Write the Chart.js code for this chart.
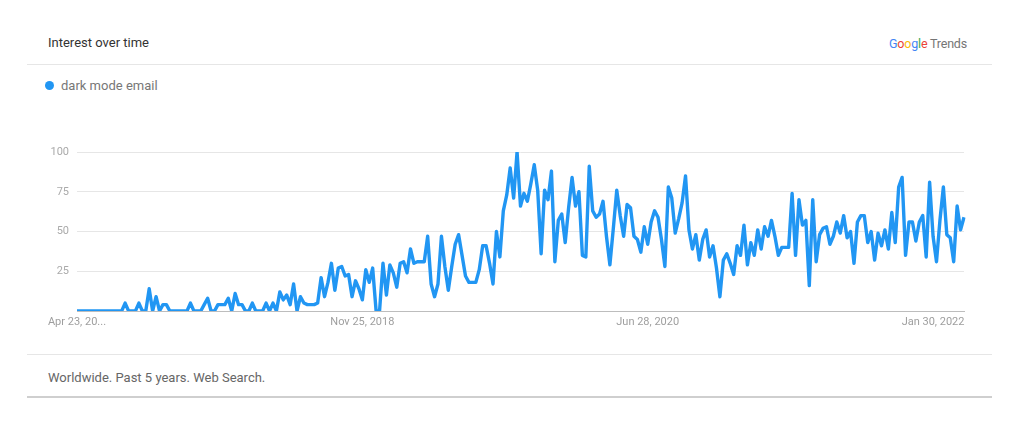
<!DOCTYPE html>
<html lang="en">
<head>
    <meta charset="UTF-8">
    <title>Interest over time</title>
    <style>
        body { margin: 0; width: 1024px; height: 441px; background: #fff; font-family: Roboto, Arial, sans-serif; position: relative; overflow: hidden; }
        .abs { position: absolute; }
        #title { left: 48px; top: 35px; font-size: 13px; color: #333; }
        #brand { left: 889px; top: 36px; font-size: 12.5px; letter-spacing: -0.2px; }
        .line { left: 27px; width: 965px; height: 1px; background: #e6e6e6; }
        #legend { left: 45px; top: 78px; font-size: 13px; color: #777; }
        #legend .dot { display: inline-block; width: 9px; height: 9px; border-radius: 50%; background: #2196f3; margin-right: 7px; vertical-align: 0px; }
        #footer { left: 48px; top: 370px; font-size: 13px; color: #666; }
        #chartBox { left: 30px; top: 130px; }
    </style>
</head>
<body>
    <div id="title" class="abs">Interest over time</div>
    <div id="brand" class="abs"><span style="color:#4285f4">G</span><span style="color:#ea4335">o</span><span style="color:#fbbc05">o</span><span style="color:#4285f4">g</span><span style="color:#34a853">l</span><span style="color:#ea4335">e</span> <span style="color:#757575">Trends</span></div>
    <div class="abs line" style="top:64px"></div>
    <div id="legend" class="abs"><span class="dot"></span>dark mode email</div>
    <div id="chartBox" class="abs"><canvas id="trendChart" width="950" height="210"></canvas></div>
    <div class="abs line" style="top:354px"></div>
    <div id="footer" class="abs">Worldwide. Past 5 years. Web Search.</div>
    <div class="abs line" style="top:396px; height:2px; background:#cfcfcf"></div>

    <script src="https://cdn.jsdelivr.net/npm/chart.js"></script>
    <script>
        // weekly interest, Apr 23 2017 onwards
        const interest = [
            0, 0, 0, 0, 0, 0, 0, 0, 0, 0, 0, 0, 0, 0,
            5, 0, 0, 0, 5, 0, 0,
            14, 0, 9, 0, 4, 4, 0,
            0, 0, 0, 0, 0, 5, 0,
            0, 0, 4, 8, 0, 0, 4,
            4, 4, 8, 0, 11, 4, 4,
            0, 0, 5, 0, 0, 0, 5,
            0, 5, 0, 12, 7, 10, 4,
            17, 0, 9, 5, 4, 4, 4, 5,
            21, 9, 18, 30, 13, 27, 28, 22, 23, 9,
            19, 14, 7, 26, 18, 27, 0, 0, 30, 10,
            29, 24, 15, 30, 31, 24, 39, 30, 31, 31,
            31, 47, 17, 9, 17, 47, 28, 13, 28, 42,
            48, 35, 22, 18, 18, 18, 26, 41, 41, 30,
            17, 50, 34, 63, 73, 90, 71, 100, 66, 74,
            69, 80, 92, 76, 36, 76, 70, 88, 31, 57,
            61, 43, 65, 84, 66, 75, 35, 34, 91, 63,
            59, 61, 69, 47, 29, 52, 76, 60, 47, 67,
            65, 47, 45, 37, 53, 42, 56, 63, 59, 45,
            28, 78, 71, 49, 58, 68, 85, 51, 39, 48,
            32, 45, 51, 34, 41, 27, 9, 32, 36, 30,
            23, 41, 35, 54, 29, 43, 35, 51, 39, 53,
            47, 57, 47, 35, 40, 40, 40, 74, 35, 70,
            54, 57, 16, 70, 31, 48, 52, 53, 42, 47,
            56, 49, 60, 46, 50, 30, 56, 60, 60, 43,
            50, 32, 49, 41, 51, 39, 62, 43, 78, 84,
            35, 56, 56, 44, 56, 60, 34, 81, 47, 31,
            57, 78, 48, 46, 31, 66, 51, 59
        ];
        const tickWeeks = [0, 83, 166, 249];
        const tickText = ['Apr 23, 20...', 'Nov 25, 2018', 'Jun 28, 2020', 'Jan 30, 2022'];
        const yTicks = [25, 50, 75, 100];

        const start = new Date(2017, 3, 23);
        const weekLabels = interest.map((_, i) => {
            const d = new Date(start.getTime() + i * 7 * 86400000);
            return d.toDateString();
        });

        const ctx = document.getElementById('trendChart').getContext('2d');
        new Chart(ctx, {
            type: 'line',
            data: {
                labels: weekLabels,
                datasets: [{
                    label: 'dark mode email',
                    data: interest,
                    borderColor: '#2196f3',
                    borderWidth: 3.4,
                    borderJoinStyle: 'round',
                    pointRadius: 0,
                    tension: 0,
                    fill: false
                }]
            },
            options: {
                responsive: false,
                animation: false,
                layout: { padding: { top: 22, right: 16, left: 0, bottom: 0 } },
                plugins: { legend: { display: false }, tooltip: { enabled: false } },
                scales: {
                    x: {
                        afterFit: s => { s.height = 29; },
                        grid: { display: false, drawTicks: false },
                        border: { color: '#bdbdbd', width: 1 },
                        ticks: {
                            autoSkip: false,
                            maxRotation: 0,
                            padding: 5,
                            color: '#9e9e9e',
                            font: { family: 'Roboto', size: 11 },
                            callback: (v, i) => {
                                const k = tickWeeks.indexOf(i);
                                return k >= 0 ? tickText[k] : '';
                            }
                        }
                    },
                    y: {
                        min: 0,
                        max: 100,
                        afterFit: s => { s.width = 47; },
                        afterBuildTicks: s => { s.ticks = [0].concat(yTicks).map(v => ({ value: v })); },
                        grid: {
                            drawTicks: false,
                            color: c => c.tick.value === 0 ? '#bdbdbd' : '#e6e6e6'
                        },
                        border: { display: false },
                        ticks: {
                            padding: 8,
                            color: '#aaaaaa',
                            font: { family: 'Roboto', size: 11 },
                            callback: v => v === 0 ? '' : v
                        }
                    }
                }
            }
        });
    </script>
</body>
</html>
